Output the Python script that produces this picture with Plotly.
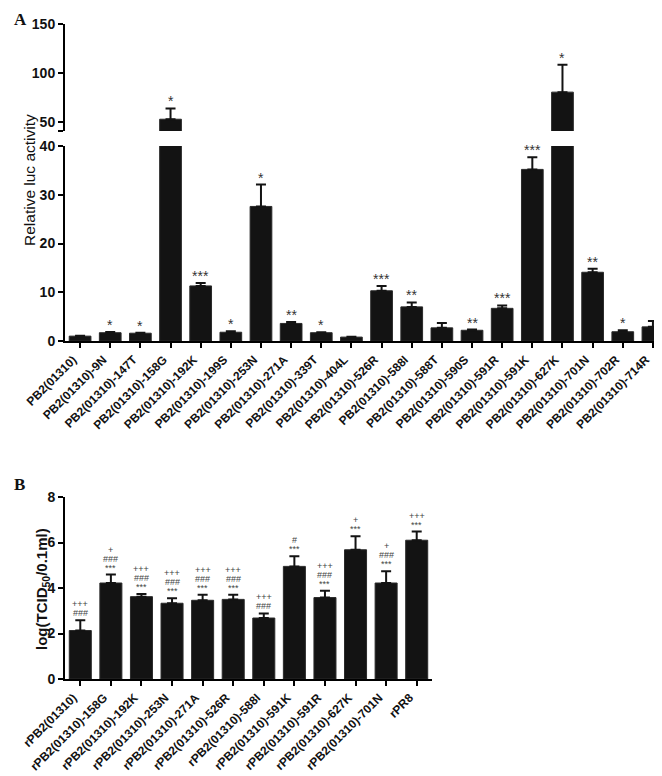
import plotly.graph_objects as go

# ---------------- Panel A data ----------------
luc_labels = ["PB2(01310)", "PB2(01310)-9N", "PB2(01310)-147T", "PB2(01310)-158G",
              "PB2(01310)-192K", "PB2(01310)-199S", "PB2(01310)-253N", "PB2(01310)-271A",
              "PB2(01310)-339T", "PB2(01310)-404L", "PB2(01310)-526R", "PB2(01310)-588I",
              "PB2(01310)-588T", "PB2(01310)-590S", "PB2(01310)-591R", "PB2(01310)-591K",
              "PB2(01310)-627K", "PB2(01310)-701N", "PB2(01310)-702R", "PB2(01310)-714R"]
luc_values = [1.0, 1.7, 1.6, 53.0, 11.3, 1.8, 27.6, 3.6, 1.7, 0.8,
              10.3, 7.0, 2.7, 2.2, 6.7, 35.2, 80.6, 14.1, 1.9, 2.9]
luc_errors = [0.1, 0.15, 0.1, 11.0, 0.6, 0.2, 4.5, 0.3, 0.1, 0.05,
              1.0, 0.9, 1.0, 0.15, 0.6, 2.5, 28.0, 0.7, 0.3, 1.2]
luc_marks = ["", "*", "*", "*", "***", "*", "*", "**", "*", "",
             "***", "**", "", "**", "***", "***", "*", "**", "*", ""]
luc_low_ticks = [0, 10, 20, 30, 40]
luc_high_ticks = [50, 100, 150]

# ---------------- Panel B data ----------------
tcid_labels = ["rPB2(01310)", "rPB2(01310)-158G", "rPB2(01310)-192K", "rPB2(01310)-253N",
               "rPB2(01310)-271A", "rPB2(01310)-526R", "rPB2(01310)-588I", "rPB2(01310)-591K",
               "rPB2(01310)-591R", "rPB2(01310)-627K", "rPB2(01310)-701N", "rPR8"]
tcid_values = [2.13, 4.22, 3.62, 3.33, 3.46, 3.5, 2.68, 4.95, 3.58, 5.68, 4.22, 6.1]
tcid_errors = [0.45, 0.37, 0.12, 0.22, 0.24, 0.2, 0.2, 0.45, 0.3, 0.6, 0.52, 0.38]
# significance symbols, listed top line first
tcid_marks = [["+++", "###"],
              ["+", "###", "***"],
              ["+++", "###", "***"],
              ["+++", "###", "***"],
              ["+++", "###", "***"],
              ["+++", "###", "***"],
              ["+++", "###"],
              ["#", "***"],
              ["+++", "###", "***"],
              ["+", "***"],
              ["+", "###", "***"],
              ["+++", "***"]]
tcid_ticks = [0, 2, 4, 6, 8]

W, H = 662, 776
FONT = "Liberation Sans, Arial, sans-serif"
BAR = "#131313"


def px_x(p):
    return p / W


def px_y(p):
    return 1 - p / H


fig = go.Figure()

bar_style = dict(marker=dict(color=BAR, line=dict(color="#2a2a2a", width=1)), width=0.72,
                 showlegend=False, hoverinfo="x+y")


def err(arr):
    return dict(type="data", array=arr, arrayminus=[0] * len(arr), symmetric=False,
                color=BAR, thickness=2, width=5)


# Panel A lower segment
fig.add_trace(go.Bar(x=luc_labels, y=luc_values, xaxis="x", yaxis="y",
                     error_y=err(luc_errors), **bar_style))
# Panel A upper segment (broken axis)
fig.add_trace(go.Bar(x=luc_labels, y=luc_values, xaxis="x", yaxis="y2",
                     error_y=err(luc_errors), **bar_style))
# Panel B
fig.add_trace(go.Bar(x=tcid_labels, y=tcid_values, xaxis="x2", yaxis="y3",
                     error_y=err(tcid_errors), **bar_style))

axis_common = dict(showline=True, linecolor="black", linewidth=2, ticks="outside",
                   ticklen=5, tickwidth=2, tickcolor="black", showgrid=False,
                   zeroline=False, mirror=False, automargin=False,
                   tickfont=dict(family=FONT, size=14, color="#111", weight="bold"))

xtick_font = dict(family=FONT, size=12, color="#111", weight="bold")

fig.update_layout(
    width=W, height=H,
    margin=dict(l=0, r=0, t=0, b=0),
    paper_bgcolor="white", plot_bgcolor="white",
    xaxis=dict(domain=[px_x(57), px_x(660)], anchor="y", type="category",
               range=[-0.5, len(luc_labels) - 0.5], tickangle=-45, ticklabelshift=-7,
               **{**axis_common, "tickfont": xtick_font}),
    yaxis=dict(domain=[px_y(333), px_y(138)], anchor="x", range=[0, 40],
               tickvals=luc_low_ticks, **axis_common),
    yaxis2=dict(domain=[px_y(123), px_y(16)], anchor="x", range=[41, 150],
                tickvals=luc_high_ticks,
                minor=dict(tickvals=[41], ticks="outside", ticklen=5, tickwidth=2,
                           tickcolor="black", showgrid=False),
                **axis_common),
    xaxis2=dict(domain=[px_x(57), px_x(424)], anchor="y3", type="category",
                range=[-0.5, len(tcid_labels) - 0.5], tickangle=-45, ticklabelshift=-7,
                **{**axis_common, "tickfont": xtick_font}),
    yaxis3=dict(domain=[px_y(671), px_y(489)], anchor="x2", range=[0, 8],
                tickvals=tcid_ticks, **axis_common),
)

ann = []
# Panel letters
ann.append(dict(text="<b>A</b>", x=px_x(4), y=px_y(12), xref="paper", yref="paper",
                xanchor="left", yanchor="middle", showarrow=False,
                font=dict(family="Liberation Serif, Times New Roman, serif", size=17, color="#111")))
ann.append(dict(text="<b>B</b>", x=px_x(4), y=px_y(476), xref="paper", yref="paper",
                xanchor="left", yanchor="middle", showarrow=False,
                font=dict(family="Liberation Serif, Times New Roman, serif", size=17, color="#111")))
# Y titles
ann.append(dict(text="Relative luc activity", x=px_x(21), y=px_y(172), xref="paper", yref="paper",
                textangle=-90, showarrow=False, xanchor="center", yanchor="middle",
                font=dict(family=FONT, size=15.5, color="#111")))
ann.append(dict(text="<b>log(TCID<sub>50</sub>/0.1ml)</b>", x=px_x(34), y=px_y(581),
                xref="paper", yref="paper", textangle=-90, showarrow=False,
                xanchor="center", yanchor="middle",
                font=dict(family=FONT, size=15, color="#111")))

# Stars for panel A
for lab, v, e, m in zip(luc_labels, luc_values, luc_errors, luc_marks):
    if not m:
        continue
    top = v + e
    yref = "y2" if v > 40 else "y"
    ann.append(dict(text=m, x=lab, y=top, xref="x", yref=yref, showarrow=False,
                    xanchor="center", yanchor="bottom", yshift=-3,
                    font=dict(family=FONT, size=14, color="#333")))

# Symbols for panel B
for lab, v, e, lines in zip(tcid_labels, tcid_values, tcid_errors, tcid_marks):
    top = v + e
    for k, s in enumerate(reversed(lines)):
        ann.append(dict(text=s, x=lab, y=top, xref="x2", yref="y3", showarrow=False,
                        xanchor="center", yanchor="middle", yshift=7 + 9 * k,
                        font=dict(family=FONT, size=9, color="#444")))

fig.update_layout(annotations=ann)

fig.write_html("out.html")
